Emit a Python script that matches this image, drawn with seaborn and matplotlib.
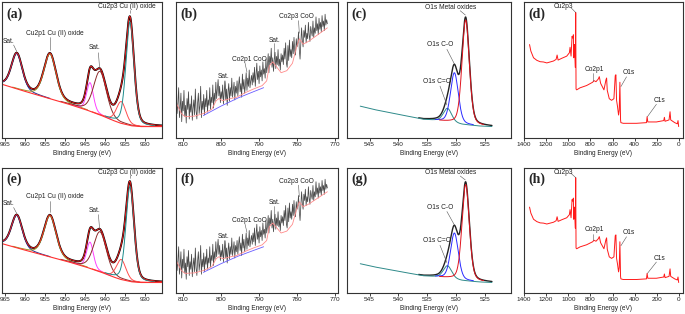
import numpy as np
import matplotlib
matplotlib.use("Agg")
import matplotlib.pyplot as plt
import seaborn as sns

# Cu 2p region (panels a and e)
cu_bg_x = [965.8, 962, 958, 954, 949.6, 945, 941.3, 938.5, 936.3, 933.5, 931.3, 925.8]
cu_bg_y = [39.5, 36, 32.5, 29, 25.3, 21, 17, 13.5, 11, 9, 8.4, 8.4]
cu_centers = [962.1, 953.8, 943.8, 941.3, 936.0, 933.8]
cu_heights = [26, 33, 21, 32, 16, 76]
cu_fwhm = [3.2, 3.6, 2.0, 3.8, 2.8, 2.4]

# Co 2p region (panels b and f), measured counts
co_y = [30, 18, 26, 37, 15, 22, 33, 12, 27, 20, 35, 16, 24, 11, 29, 21, 34, 14, 25, 19,
        31, 13, 22, 28, 17, 36, 20, 14, 26, 33, 18, 24, 38, 15, 27, 21, 32, 17, 29, 23,
        35, 19, 28, 24, 37, 21, 30, 26, 39, 22, 33, 27, 41, 29, 36, 43, 31, 38, 26, 34,
        29, 39, 25, 33, 42, 28, 36, 24, 34, 40, 27, 37, 31, 44, 30, 35, 41, 28, 38, 33,
        42, 31, 39, 45, 34, 40, 30, 47, 36, 43, 33, 39, 48, 35, 44, 38, 50, 37, 42, 46,
        39, 48, 41, 52, 38, 46, 55, 43, 49, 40, 53, 45, 50, 42, 56, 47, 51, 44, 58, 48,
        53, 62, 48, 60, 55, 66, 52, 59, 49, 57, 63, 51, 60, 54, 65, 53, 58, 50, 62, 56,
        61, 54, 66, 58, 70, 55, 52, 68, 57, 72, 60, 65, 59, 71, 62, 74, 64, 61, 73, 67,
        70, 78, 65, 58, 69, 81, 72, 67, 79, 74, 83, 70, 77, 73, 85, 76, 71, 82, 78, 75,
        86, 74, 81, 77, 89, 79, 84, 76, 88, 80, 85, 78, 90, 82, 86, 79, 91, 83, 87, 84]
co_fit_x = [811.7, 810.5, 809.5, 807, 804.7, 802.5, 801.3, 800.6, 799.6, 797.5, 795.9, 793.5,
            791.5, 789.2, 788.0, 787.3, 786.4, 785.3, 784.2, 782.7, 781.2, 780.2, 779.4, 778.4,
            777, 775, 773.5, 772.0]
co_fit_y = [25, 18, 15.7, 16.1, 18, 21, 27.5, 29, 27.5, 29, 30, 33.5,
            36, 38.5, 42, 53, 56, 52, 48, 49.5, 55, 66, 73, 69,
            71, 75, 78, 81]
co_sub_x = [804.7, 800, 795.5, 791.5, 788.8]
co_sub_y = [16.5, 23.5, 29.5, 34, 37]

# O 1s region (panels c and g)
o_bg_x = [546.6, 544.3, 541.4, 538.5, 535.7, 533.5, 531, 529, 526, 523.8]
o_bg_y = [23.4, 21, 18.6, 16.1, 13.7, 13, 11.5, 10, 8.8, 8.4]
o_centers = [531.5, 530.3, 528.35]
o_heights = [10, 37, 77]
o_fwhm = [1.7, 1.6, 1.5]

# survey (panels d and h)
sv_x = [1350, 1338, 1314, 1284, 1254, 1224, 1194, 1164, 1134, 1110, 1101, 1092, 1059, 1014,
        990, 984, 975, 966, 960, 954, 951, 945, 942, 936, 933, 930, 924, 894, 834, 780,
        768, 750, 729, 720, 708, 678, 660, 654, 648, 630, 609, 588, 576, 570, 564, 555,
        546, 540, 534, 528, 525, 504, 384, 294, 288, 282, 204, 138, 132, 126, 90, 81, 75,
        39, 15, 9, 3]
sv_y = [68.7, 63.9, 59, 57.1, 56.1, 55.9, 55.2, 55.9, 56.6, 57.8, 61, 57.3, 58.6, 60.2,
        62.7, 66.7, 60.2, 74.7, 73.5, 75.9, 59, 68.7, 63.9, 51.8, 92.3, 36, 35.4, 36.9, 38.6, 41,
        42.2, 41.4, 43.4, 45.1, 40.2, 35.4, 42.7, 44.1, 35, 28.9, 27.7, 28.9, 45.8, 46.5, 27.7, 22.9,
        16.9, 20.5, 41, 13.3, 11.3, 10.8, 10.8, 11.3, 15.7, 11.8, 11.8, 12.8, 15.2, 12.3, 13.3, 19.3, 13.3,
        11.3, 10.4, 12.8, 8.4]


def peak(x, c, h, w, m=0.3):
    g = np.exp(-4 * np.log(2) * (x - c) ** 2 / w ** 2)
    l = 1 / (1 + 4 * (x - c) ** 2 / w ** 2)
    return h * ((1 - m) * g + m * l)


def line(ax, x, y, color, lw):
    sns.lineplot(x=np.asarray(x), y=np.asarray(y), ax=ax, color=color, lw=lw,
                 sort=False, estimator=None)


def note(ax, text, tx, ty, x0, y0, x1, y1, ha="center"):
    ax.plot([x0, x1], [y0, y1], color="#555555", lw=0.4)
    ax.text(tx, ty, text, fontsize=4.8, ha=ha, va="center", color="#222222")


def style(ax, xlim, ticks, letter):
    ax.set_xlim(*xlim)
    ax.set_ylim(0, 100)
    ax.set_xticks(ticks)
    ax.set_yticks([])
    ax.set_ylabel("")
    ax.tick_params(axis="x", direction="out", length=2, width=0.6, pad=1.2,
                   labelsize=4.6, colors="#222222")
    ax.set_xlabel("Binding Energy (eV)", fontsize=4.7, labelpad=1.5, color="#222222")
    for s in ax.spines.values():
        s.set_visible(True)
        s.set_linewidth(0.8)
        s.set_color("#333333")
    ax.text(0.025, 0.91, f"({letter})", transform=ax.transAxes, family="Liberation Serif",
            fontweight="bold", fontsize=10, ha="left", va="center")


def draw_cu(ax, letter):
    x = np.linspace(965.8, 925.8, 900)
    bg = np.interp(x[::-1], cu_bg_x[::-1], cu_bg_y[::-1])[::-1]
    colors = ["#23308f", "#9c9a2c", "#ff40ff", "#8c2b2b", "#ff4d4d", "#1c8c8c"]
    total = bg.copy()
    for c, h, w in zip(cu_centers, cu_heights, cu_fwhm):
        total += peak(x, c, h, w)
    line(ax, x, total, "black", 1.4)
    for c, h, w, col in zip(cu_centers, cu_heights, cu_fwhm, colors):
        m = np.abs(x - c) < 2.6 * w
        line(ax, x[m], bg[m] + peak(x[m], c, h, w), col, 0.7)
    line(ax, x, bg, "#ff3030", 0.8)
    line(ax, x, total, "#ff2020", 0.6)
    note(ax, "Cu2p3 Cu (II) oxide", 934.6, 96.5, 933.75, 94.2, 933.75, 91.7)
    note(ax, "Cu2p1 Cu (II) oxide", 952.5, 77, 953.75, 74, 953.75, 64.7)
    note(ax, "Sat.", 964.1, 71.3, 962.9, 68.4, 962.1, 63.5)
    note(ax, "Sat.", 942.6, 66.2, 941.7, 62.7, 941.4, 51.2)
    style(ax, (965.8, 925.8), range(965, 929, -5), letter)


def draw_co(ax, letter):
    x = np.linspace(811.8, 772.0, len(co_y))
    line(ax, x, co_y, "#4a4a4a", 0.55)
    line(ax, co_sub_x, co_sub_y, "#6a5cff", 0.6)
    line(ax, co_fit_x, co_fit_y, "#ff8a8a", 0.6)
    note(ax, "Sat.", 799.4, 44.9, 799.0, 41.5, 798.7, 30.1)
    note(ax, "Co2p1 CoO", 792.5, 58, 793.7, 55, 793.2, 48.5)
    note(ax, "Sat.", 785.9, 72, 786.2, 69.6, 786.2, 58.6)
    note(ax, "Co2p3 CoO", 780.2, 89, 779.6, 86.3, 779.4, 77)
    style(ax, (811.9, 769.2), range(810, 769, -10), letter)


def draw_o(ax, letter):
    x = np.linspace(546.6, 523.8, 900)
    bg = np.interp(x[::-1], o_bg_x[::-1], o_bg_y[::-1])[::-1]
    colors = ["#2e8a8a", "#2a2aff", "#e0141e"]
    total = bg.copy()
    for c, h, w in zip(o_centers, o_heights, o_fwhm):
        total += peak(x, c, h, w)
    m = x < 536.5
    line(ax, x[m], total[m], "#222222", 1.0)
    windows = [(546.7, 523.7), (533.6, 527.0), (532.9, 525.2)]
    for c, h, w, col, (lo, hi) in zip(o_centers, o_heights, o_fwhm, colors, windows):
        m = (x <= lo) & (x >= hi)
        line(ax, x[m], bg[m] + peak(x[m], c, h, w), col, 0.7)
    note(ax, "O1s Metal oxides", 530.9, 96, 529.3, 93.6, 528.4, 90.4)
    note(ax, "O1s C-O", 532.7, 68.4, 531.6, 65.2, 530.3, 54.4)
    note(ax, "O1s C=O", 533.3, 41.9, 532.8, 38.2, 531.6, 24.3)
    style(ax, (548.9, 520.5), range(545, 524, -5), letter)


def draw_survey(ax, letter):
    line(ax, sv_x, sv_y, "#ff1a1a", 0.7)
    note(ax, "Cu2p3", 1044, 96.4, 975, 95.7, 933, 92.3)
    note(ax, "Co2p1", 765, 50.6, 774, 47.5, 774, 42.2)
    note(ax, "O1s", 456, 48.2, 474, 45, 525, 37.8)
    note(ax, "C1s", 174, 27.7, 204, 24.8, 285, 15.7)
    style(ax, (1400, -36), range(1400, -1, -200), letter)


sns.set_theme(style="ticks")
plt.rcParams["font.family"] = ["Liberation Sans", "DejaVu Sans"]

fig = plt.figure(figsize=(6.85, 3.14), dpi=100)
W, H = 685, 314
cols = [(2, 160), (176, 162), (347, 164), (524, 159)]
rows = [(2, 138), (168, 293)]
letters = ["abcd", "efgh"]
painters = [draw_cu, draw_co, draw_o, draw_survey]
for r, (top, bottom) in enumerate(rows):
    for c, (left, width) in enumerate(cols):
        ax = fig.add_axes([left / W, 1 - bottom / H, width / W, (bottom - top) / H])
        painters[c](ax, letters[r][c])

fig.savefig("out.png", dpi=100)
